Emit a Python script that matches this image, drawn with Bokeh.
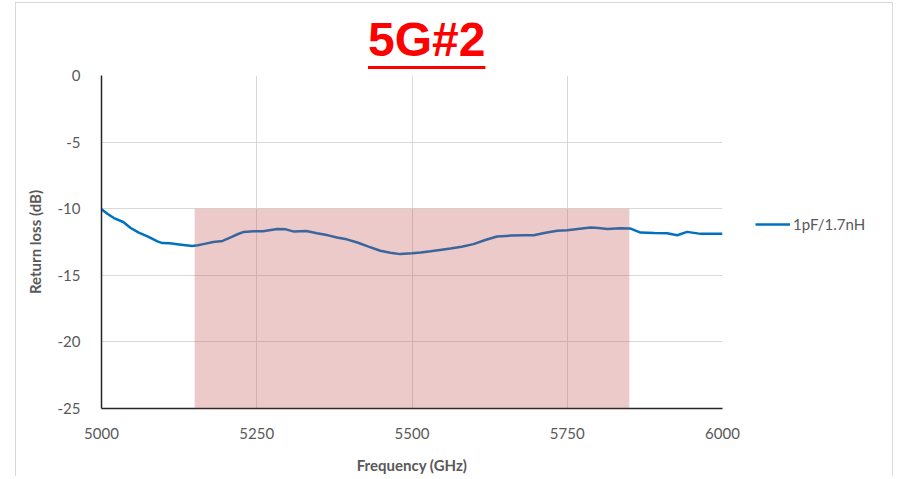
from bokeh.plotting import figure
from bokeh.models import (Div, Legend, LegendItem, FixedTicker, BoxAnnotation, Range1d,
                          PrintfTickFormatter)
from bokeh.layouts import column
from bokeh.embed import file_html
from bokeh.resources import INLINE

title_text = "5G#2"
series_name = "1pF/1.7nH"
x_label = "Frequency (GHz)"
y_label = "Return loss (dB)"
x_ticks = [5000, 5250, 5500, 5750, 6000]
y_ticks = [-25, -20, -15, -10, -5, 0]
band_start, band_end, band_top = 5150, 5850, -10

freq = [5000, 5010, 5020, 5035, 5047, 5060, 5075, 5090, 5098, 5110, 5125, 5146,
        5155, 5164, 5180, 5195, 5208, 5220, 5229, 5245, 5260, 5283, 5297, 5310,
        5330, 5347, 5365, 5379, 5395, 5412, 5430, 5449, 5465, 5481, 5500, 5514,
        5530, 5545, 5562, 5580, 5599, 5618, 5637, 5660, 5680, 5696, 5715, 5734,
        5750, 5770, 5788, 5800, 5815, 5835, 5852, 5868, 5890, 5911, 5927, 5943,
        5965, 5985, 6000]
rl = [-10.05, -10.4, -10.7, -11.0, -11.45, -11.8, -12.1, -12.45, -12.58, -12.6, -12.68, -12.8,
      -12.75, -12.66, -12.5, -12.42, -12.16, -11.9, -11.74, -11.7, -11.7, -11.53, -11.55, -11.72,
      -11.68, -11.84, -12.0, -12.16, -12.3, -12.54, -12.85, -13.16, -13.3, -13.41, -13.35, -13.29,
      -13.2, -13.1, -12.99, -12.85, -12.66, -12.35, -12.09, -12.02, -11.99, -11.99, -11.8, -11.66,
      -11.62, -11.5, -11.41, -11.45, -11.53, -11.47, -11.49, -11.79, -11.82, -11.84, -11.99, -11.74,
      -11.89, -11.89, -11.89]

label_color = "#595959"
font = "Lato"

p = figure(frame_width=621, frame_height=333, output_backend="svg", toolbar_location=None,
           x_range=Range1d(5000, 6000), y_range=Range1d(-25, 0),
           min_border_left=101, min_border_right=0, min_border_top=21, min_border_bottom=73)
p.outline_line_color = None
p.background_fill_color = "white"
p.border_fill_alpha = 0

line = p.line(freq, rl, line_color="#0070C0", line_width=2.5)

band = BoxAnnotation(left=band_start, right=band_end, top=band_top, bottom=-25,
                     fill_color="#C0504D", fill_alpha=0.3, line_color=None, level="overlay")
p.add_layout(band)

for ax in (p.xaxis[0], p.yaxis[0]):
    ax.major_tick_line_color = None
    ax.minor_tick_line_color = None
    ax.major_tick_out = 0
    ax.major_tick_in = 0
    ax.minor_tick_out = 0
    ax.minor_tick_in = 0
    ax.axis_line_color = "#262626"
    ax.axis_line_width = 1.5
    ax.major_label_text_font = font
    ax.major_label_text_font_size = "15px"
    ax.major_label_text_color = label_color
    ax.axis_label_text_font = font
    ax.axis_label_text_font_size = "15px"
    ax.axis_label_text_font_style = "bold"
    ax.axis_label_text_color = label_color

p.xaxis.ticker = FixedTicker(ticks=x_ticks)
p.yaxis.ticker = FixedTicker(ticks=y_ticks)
p.yaxis.formatter = PrintfTickFormatter(format="%d")
p.xaxis.formatter = PrintfTickFormatter(format="%d")
p.xaxis.axis_label = x_label
p.yaxis.axis_label = y_label
p.xaxis.major_label_standoff = 19
p.yaxis.major_label_standoff = 21
p.xaxis.axis_label_standoff = 14
p.yaxis.axis_label_standoff = 11

p.xgrid.grid_line_color = "#d9d9d9"
p.ygrid.grid_line_color = "#d9d9d9"
p.xgrid.ticker = FixedTicker(ticks=x_ticks)
p.ygrid.ticker = FixedTicker(ticks=y_ticks)

legend = Legend(items=[LegendItem(label=series_name, renderers=[line])],
                location=(33, 174), orientation="vertical")
legend.border_line_color = None
legend.background_fill_alpha = 0
legend.label_text_font = font
legend.label_text_font_size = "15px"
legend.label_text_color = label_color
legend.glyph_width = 35
legend.label_standoff = 3
legend.margin = 0
legend.padding = 0
p.add_layout(legend, "right")

frame_box = ('<div style="position:absolute; left:10px; top:-3px; width:878px; height:474px; '
             'box-sizing:border-box; border:1px solid #d9d9d9; border-bottom:none; '
             'pointer-events:none;"></div>')
title_html = ('<div style="margin-left:363px; margin-top:11px; line-height:1; '
              'font-family:\'Liberation Sans\'; font-weight:bold; font-size:48px; '
              'color:#FF0000; text-decoration:underline; text-decoration-thickness:3px; '
              'text-underline-offset:10px; white-space:nowrap;">' + title_text + '</div>')
div = Div(text=frame_box + title_html, width=885, height=44)

layout = column(div, p, spacing=0)
open("out.html", "w").write(file_html(layout, INLINE))
